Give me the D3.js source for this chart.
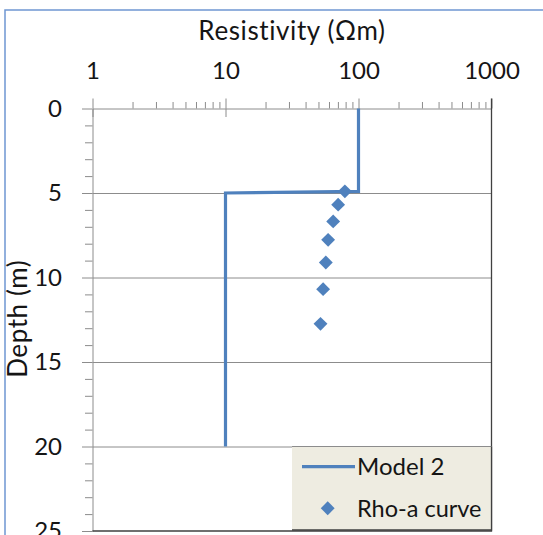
<!DOCTYPE html>
<html>
<head>
<meta charset="utf-8">
<script src="https://cdn.jsdelivr.net/npm/d3@7"></script>
<style>
  html, body { margin: 0; padding: 0; background: #fff; }
  svg { display: block; }
  text { font-family: Lato, "Open Sans", sans-serif; fill: #151515; font-variant-ligatures: none; }
</style>
</head>
<body>
<svg id="chart" width="543" height="535"></svg>
<script>
// ---- data ----
const resistivityTicks = [1, 10, 100, 1000];
const depthTicks = [0, 5, 10, 15, 20, 25];
const model2Res = [100, 100, 10, 10];
const model2Depth = [0, 4.9, 5, 20];
const rhoARes = [79, 70.3, 64.5, 59.1, 56.8, 54.2, 51.8];
const rhoADepth = [4.9, 5.69, 6.68, 7.77, 9.11, 10.69, 12.74];
const seriesNames = ["Model 2", "Rho-a curve"];
const xTitle = "Resistivity (Ωm)";
const yTitle = "Depth (m)";

// ---- layout ----
const W = 543, H = 535;
const pL = 92.5, pR = 491.5, pT = 108.5, pB = 531;
const blue = "#4F81BD";
const axisGray = "#8c8c8c";
const dark = "#404040";

const svg = d3.select("#chart");

// outer frame (partial, as in the reference)
svg.append("path")
  .attr("d", `M5,${H} L5,10 L${W},10`)
  .attr("fill", "none").attr("stroke", "#6f97d2").attr("stroke-width", 1.5);

const x = d3.scaleLog().domain([1, 1000]).range([pL, pR]);
const y = d3.scaleLinear().domain([0, 25]).range([pT, pB]);

const minorX = [];
[1, 10, 100].forEach(b => { for (let k = 2; k <= 9; k++) minorX.push(b * k); });
const minorY = d3.range(0, 26).filter(d => d % 5 !== 0);

// horizontal gridlines
svg.append("g").attr("transform", `translate(${pL},0)`)
  .call(d3.axisLeft(y).tickValues(depthTicks.slice(1, -1)).tickSize(-(pR - pL)).tickFormat(""))
  .call(g => g.select(".domain").remove())
  .call(g => g.selectAll("line").attr("stroke", axisGray).attr("stroke-width", 1));

// y minor ticks
svg.append("g").attr("transform", `translate(${pL},0)`)
  .call(d3.axisLeft(y).tickValues(minorY).tickSize(7.5).tickFormat(""))
  .call(g => g.select(".domain").remove())
  .call(g => g.selectAll("line").attr("stroke", axisGray));

// y major axis with labels
svg.append("g").attr("transform", `translate(${pL},0)`)
  .call(d3.axisLeft(y).tickValues(depthTicks).tickSize(10.5).tickSizeOuter(0).tickPadding(20).tickFormat(d3.format("d")))
  .call(g => g.select(".domain").attr("stroke", axisGray))
  .call(g => g.selectAll("line").attr("stroke", axisGray))
  .call(g => g.selectAll("text").attr("font-size", 24).attr("font-family", "Lato, 'Open Sans', sans-serif").attr("fill", "#151515"));

// x minor ticks (above)
svg.append("g").attr("transform", `translate(0,${pT})`)
  .call(d3.axisTop(x).tickValues(minorX).tickSize(6.5).tickFormat(""))
  .call(g => g.select(".domain").remove())
  .call(g => g.selectAll("line").attr("stroke", axisGray));

// x major ticks below (cross)
svg.append("g").attr("transform", `translate(0,${pT})`)
  .call(d3.axisBottom(x).tickValues(resistivityTicks.slice(0, -1)).tickSize(8.5).tickFormat(""))
  .call(g => g.select(".domain").remove())
  .call(g => g.selectAll("line").attr("stroke", axisGray));

// x major axis with labels (top)
svg.append("g").attr("transform", `translate(0,${pT})`)
  .call(d3.axisTop(x).tickValues(resistivityTicks).tickSize(10).tickSizeOuter(0).tickPadding(19.5).tickFormat(d3.format("d")))
  .call(g => g.select(".domain").attr("stroke", axisGray))
  .call(g => g.selectAll("line").attr("stroke", axisGray))
  .call(g => g.selectAll("text").attr("font-size", 24).attr("font-family", "Lato, 'Open Sans', sans-serif").attr("fill", "#151515"));

// right and bottom plot border
svg.append("path")
  .attr("d", `M${x(1000)},${pT - 10} L${x(1000)},${y(25)} L${x(1)},${y(25)}`)
  .attr("fill", "none").attr("stroke", dark).attr("stroke-width", 1.3);

// titles
svg.append("text").attr("x", (pL + pR) / 2).attr("y", 39.5)
  .attr("text-anchor", "middle").attr("font-size", 26).attr("letter-spacing", 0.6).text(xTitle);
svg.append("text").attr("transform", `translate(26.5,${(pT + pB) / 2 - 1}) rotate(-90)`)
  .attr("text-anchor", "middle").attr("font-size", 26).attr("letter-spacing", 0.6).text(yTitle);

// Model 2 line
const modelData = model2Res.map((r, i) => ({ r, d: model2Depth[i] }));
svg.append("path").datum(modelData)
  .attr("d", d3.line().x(p => x(p.r)).y(p => y(p.d)))
  .attr("fill", "none").attr("stroke", blue).attr("stroke-width", 3.2);

// Rho-a diamonds
const diamond = d3.symbol().type(d3.symbolSquare).size(96);
const rhoData = rhoARes.map((r, i) => ({ r, d: rhoADepth[i] }));
svg.append("g").selectAll("path").data(rhoData).join("path")
  .attr("d", diamond)
  .attr("transform", p => `translate(${x(p.r)},${y(p.d)}) rotate(45)`)
  .attr("fill", blue);

// legend
const lg = svg.append("g");
lg.append("rect").attr("x", 292).attr("y", 446.5).attr("width", pR - 292).attr("height", pB - 446.5 - 1)
  .attr("fill", "#EEECE1");
lg.append("path").attr("d", `M292,446.5 L${pR},446.5`).attr("stroke", axisGray).attr("fill", "none");
lg.append("path").attr("d", `M${pR},446.5 L${pR},${pB - 1} L292,${pB - 1}`)
  .attr("stroke", dark).attr("stroke-width", 1.3).attr("fill", "none");
lg.append("line").attr("x1", 302).attr("x2", 355).attr("y1", 466.7).attr("y2", 466.7)
  .attr("stroke", blue).attr("stroke-width", 3.2);
lg.append("text").attr("x", 357).attr("y", 474.5).attr("font-size", 24).text(seriesNames[0]);
lg.append("path").attr("d", diamond).attr("transform", "translate(327.7,508.3) rotate(45)").attr("fill", blue);
lg.append("text").attr("x", 357).attr("y", 516.5).attr("font-size", 23.5).text(seriesNames[1]);
</script>
</body>
</html>
